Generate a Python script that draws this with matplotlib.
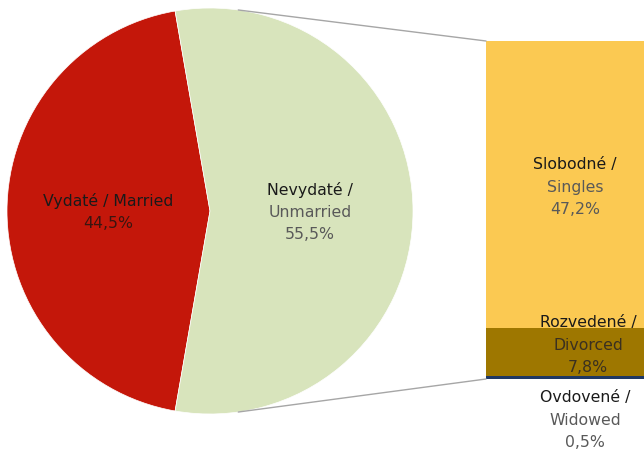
import numpy as np
import matplotlib
matplotlib.use('Agg')
import matplotlib.pyplot as plt
from matplotlib.patches import ConnectionPatch

# pie data
pieLabels = ["Vydaté / Married", "Nevydaté /\nUnmarried"]
pieVals = [44.5, 55.5]
pieColors = ["#C4170A", "#D8E4BC"]

# breakdown of unmarried (bottom -> top)
barNames = ["Ovdovené /", "Rozvedené /", "Slobodné /"]
barNamesEn = ["Widowed", "Divorced", "Singles"]
barVals = [0.5, 7.8, 47.2]
barColors = ["#1F3864", "#9E7700", "#FBC952"]

W, H = 644, 452
fig = plt.figure(figsize=(W / 100, H / 100), dpi=100)

def px(x, y):
    return x / W, 1 - y / H

# pie axes: centre (210, 212), radius 203 px
R = 203
ax1 = fig.add_axes([(210 - R) / W, (H - 212 - R) / H, 2 * R / W, 2 * R / H])
red_span = pieVals[0] / 100 * 360
start = 180 - red_span / 2
ax1.pie(pieVals, colors=pieColors, startangle=start, counterclock=True,
        radius=1, wedgeprops=dict(edgecolor='white', linewidth=0.5))
ax1.set_xlim(-1, 1)
ax1.set_ylim(-1, 1)
ax1.axis('off')

# bar axes
ax2 = fig.add_axes([486 / W, (H - 380) / H, (W - 486) / W, 338 / H])
bottom = 0
for v, c in zip(barVals, barColors):
    ax2.bar(0, v, width=1.0, bottom=bottom, color=c, align='edge', edgecolor='none')
    bottom += v
ax2.set_xlim(0, 1)
ax2.set_ylim(0, sum(barVals))
ax2.axis('off')

# connector lines from pie edge to bar corners
ang = np.deg2rad(82)
for sgn, yb in [(1, sum(barVals)), (-1, 0)]:
    con = ConnectionPatch(xyA=(np.cos(ang), sgn * np.sin(ang)), coordsA=ax1.transData,
                          xyB=(0, yb), coordsB=ax2.transData,
                          color='#A6A6A6', lw=1.0)
    fig.add_artist(con)

dark = '#1A1A1A'
grey = '#595959'
fs = 11.3

def label(x, y, lines, colors):
    for i, (t, c) in enumerate(zip(lines, colors)):
        fx, fy = px(x, y + i * 22.5)
        fig.text(fx, fy, t, ha='center', va='center', fontsize=fs, color=c)

label(108, 201, ["Vydaté / Married", "44,5%"], [dark, '#3A1510'])
label(310, 190, ["Nevydaté /", "Unmarried", "55,5%"], [dark, grey, grey])
label(575, 165, ["Slobodné /", "Singles", "47,2%"], [dark, grey, grey])
label(588, 323, ["Rozvedené /", "Divorced", "7,8%"], [dark, '#3A3020', '#3A3020'])
label(585, 398, ["Ovdovené /", "Widowed", "0,5%"], [dark, grey, grey])

fig.savefig("out.png", dpi=100)
